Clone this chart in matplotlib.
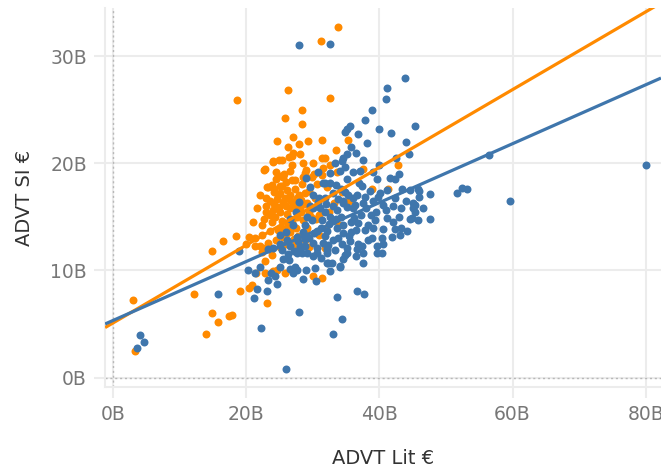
import matplotlib.pyplot as plt
import numpy as np

# values in billions of euro
orange_x = [3.0, 3.3, 12.2, 14.0, 14.8, 15.8, 17.4, 17.9, 19.1, 20.4, 23.1, 18.6, 26.3, 31.2, 33.8,
            32.6, 28.4, 25.8, 28.4, 24.6, 29.3, 31.4, 27.0, 28.1, 26.4, 24.9, 24.0, 22.7, 29.0, 25.2,
            27.3, 23.1, 28.5, 25.1, 31.5, 31.4, 21.6, 23.0, 24.6, 35.3, 42.8, 41.3, 38.9, 14.9, 16.5,
            20.4, 21.5, 24.6, 22.1, 22.4, 30.0, 31.4, 25.8, 22.4, 23.9, 22.8, 24.0, 25.4, 26.9, 25.5,
            23.3, 25.4, 26.9, 28.4, 28.8, 29.9, 31.4, 32.6, 31.8, 26.1, 26.6, 27.6, 24.8, 25.5, 27.0,
            28.1, 29.1, 26.1, 24.3, 27.6, 28.5, 25.4, 23.6, 22.4, 21.3, 22.8, 26.6, 25.5, 30.3, 32.1,
            34.5, 30.6, 33.6, 23.9, 22.8, 21.3, 31.8, 22.8, 24.0, 20.9, 37.5, 34.4,
            26.0, 27.3, 24.2, 25.0, 23.5, 26.8, 28.8, 29.5, 30.5, 27.8, 29.0, 24.5, 26.0, 28.0, 30.8,
            32.5, 33.2, 31.0, 26.5, 24.4, 23.0, 27.0, 24.9, 26.5, 28.2, 33.5, 30.0, 22.0, 32.0, 34.0,
            35.5, 29.5, 20.0, 21.0, 18.5,
            23.5, 24.2, 25.0, 25.8, 26.5, 27.2, 28.0, 28.7, 29.4, 23.0, 24.0, 25.3, 26.2, 27.5, 28.3,
            29.8, 24.7, 25.9, 27.1, 22.6, 23.8, 25.6, 26.9, 28.6, 30.2, 24.4, 26.3, 27.9, 23.3, 25.1,
            27.4, 29.2, 31.0, 26.0, 24.1, 28.9]
orange_y = [7.2, 2.5, 7.8, 4.1, 6.0, 5.2, 5.7, 5.8, 8.1, 8.4, 7.0, 25.9, 26.8, 31.4, 32.7,
            26.1, 25.0, 24.2, 23.7, 22.1, 22.1, 22.2, 21.0, 20.9, 20.6, 20.3, 20.2, 19.4, 19.4, 18.8,
            18.4, 17.8, 18.7, 17.9, 19.6, 20.5, 15.8, 16.0, 16.7, 22.2, 19.8, 17.6, 17.6, 11.8, 12.7,
            13.1, 9.8, 10.0, 12.3, 11.7, 9.5, 9.3, 9.8, 14.2, 14.5, 19.5, 20.1, 20.3, 20.7, 18.7,
            17.8, 17.9, 18.4, 18.1, 19.1, 18.7, 18.9, 19.8, 20.5, 17.5, 17.0, 16.8, 17.0, 16.4, 16.3,
            15.9, 16.3, 15.3, 15.0, 15.0, 14.7, 14.0, 13.7, 13.3, 13.0, 12.1, 13.6, 13.1, 16.8, 17.8,
            17.5, 18.1, 19.2, 11.4, 10.9, 12.3, 12.1, 9.8, 9.9, 8.6, 19.5, 17.3,
            16.0, 17.6, 16.2, 15.5, 15.2, 14.5, 17.2, 15.4, 14.8, 13.2, 13.8, 12.8, 12.5, 12.0, 16.0,
            15.5, 16.3, 13.3, 19.3, 18.5, 16.8, 22.5, 15.9, 16.6, 16.6, 21.2, 20.0, 17.0, 14.0, 14.2,
            16.5, 12.2, 12.5, 14.5, 13.2,
            16.5, 17.3, 17.2, 16.8, 15.8, 16.0, 17.0, 16.2, 17.4, 15.5, 15.6, 14.6, 14.2, 14.0, 15.5,
            15.0, 13.8, 13.4, 12.9, 14.8, 18.0, 19.0, 19.8, 20.0, 19.0, 19.2, 21.5, 21.8, 12.6, 12.2,
            12.5, 14.0, 15.2, 18.3, 17.6, 12.8]

blue_x = [3.6, 4.1, 4.7, 15.8, 22.2, 26.0, 27.9, 80.0, 59.6, 56.5, 51.7, 52.4, 53.2, 47.6, 45.9,
          45.9, 47.6, 45.3, 43.8, 41.1, 41.0, 38.9, 41.7, 44.4, 27.9, 32.6, 35.6, 34.8, 35.1, 36.8,
          38.1, 35.1, 37.5, 34.4, 34.8, 34.1, 36.0, 37.1, 39.0, 41.6, 42.3, 39.6, 32.6, 31.5, 37.4,
          43.4, 45.8, 45.0, 45.0, 40.1, 41.1, 42.3, 39.0, 40.5, 42.0, 36.6, 36.0, 34.5, 33.0, 33.8,
          31.8, 45.8, 44.9, 45.3, 45.3, 42.9, 43.2, 42.3, 44.1, 41.1, 40.5, 40.4, 38.9, 38.3, 39.3,
          41.9, 43.1, 44.6, 44.6, 40.5, 40.4, 39.6, 39.6, 37.5, 37.5, 37.4, 36.8, 35.1, 34.8, 34.1,
          32.9, 32.1, 32.6, 32.1, 36.6, 37.7, 33.6, 34.4, 33.0, 21.3, 21.6, 21.2, 23.1, 23.3, 24.6,
          23.7, 24.3, 27.0, 27.6, 26.6, 30.3, 34.1, 32.3, 25.5, 18.9, 23.3, 26.4, 27.6, 29.1, 28.1,
          34.5, 33.3, 32.6, 31.8, 29.6, 30.0, 31.1, 29.1, 29.9, 31.4, 32.6, 33.6, 34.5, 35.1, 30.6,
          32.1, 33.6, 34.5, 28.5, 27.6, 26.1, 25.1, 24.0, 28.1, 30.0, 31.5, 33.0, 34.4, 35.1, 32.1,
          30.6, 27.3, 28.4, 30.6, 32.1, 28.8, 26.6,
          35.8, 36.5, 37.2, 36.0, 38.0, 37.8, 39.5, 33.0, 33.8, 35.5, 36.2, 34.2, 31.0, 30.0, 28.8,
          27.0, 26.0, 25.0, 29.5, 31.8, 36.5, 38.3, 39.0, 38.6, 35.2, 33.5, 30.8, 29.0, 35.8, 36.5,
          37.0, 40.0, 42.5, 43.0, 44.0, 46.5, 27.5, 26.5, 28.0, 32.0, 34.8, 30.5, 29.0, 28.5, 25.0,
          22.0, 20.2, 44.0, 40.0, 37.8,
          29.0, 30.2, 31.3, 32.4, 33.5, 34.6, 35.7, 36.8, 37.9, 29.6, 30.8, 31.9, 33.1, 34.2, 35.3,
          36.4, 37.6, 38.8, 27.8, 28.9, 30.0, 31.2, 32.3, 33.4, 34.5, 35.6, 36.7, 27.2, 26.2, 25.3,
          39.8, 41.0, 42.1, 43.3]
blue_y = [2.8, 4.0, 3.3, 7.8, 4.6, 0.8, 6.1, 19.8, 16.5, 20.8, 17.2, 17.7, 17.6, 17.1, 17.4,
          16.9, 14.8, 23.5, 28.0, 27.0, 26.0, 25.0, 22.8, 20.9, 31.0, 31.1, 23.5, 22.9, 23.2, 22.7,
          21.9, 20.9, 20.3, 20.2, 19.7, 19.3, 19.2, 19.3, 19.2, 18.6, 18.5, 18.5, 18.2, 18.2, 17.9,
          17.6, 17.6, 16.3, 15.8, 17.2, 17.5, 16.8, 16.5, 16.1, 16.0, 17.0, 15.8, 16.3, 17.2, 16.7,
          16.8, 14.7, 14.9, 15.5, 16.1, 15.0, 14.0, 13.9, 13.7, 14.9, 13.9, 13.0, 13.0, 14.2, 14.7,
          13.1, 13.3, 17.5, 14.8, 12.5, 11.6, 11.6, 12.3, 11.6, 10.7, 12.3, 12.5, 11.6, 11.4, 10.3,
          10.7, 10.7, 9.9, 11.6, 8.1, 7.8, 7.5, 5.5, 4.1, 9.8, 8.3, 7.4, 8.1, 9.1, 8.7,
          9.8, 9.5, 9.8, 10.0, 10.1, 10.2, 10.4, 10.7, 11.1, 11.8, 12.0, 11.0, 11.6, 11.6, 12.1,
          20.5, 20.0, 19.1, 18.2, 17.8, 17.0, 15.8, 15.0, 14.7, 14.7, 15.0, 15.6, 16.5, 15.9, 13.7,
          13.7, 14.0, 13.5, 13.6, 13.1, 12.8, 12.5, 12.1, 12.3, 12.6, 12.6, 12.8, 12.5, 12.1, 12.1,
          12.1, 10.3, 11.6, 11.6, 11.9, 12.3, 12.3,
          14.5, 13.8, 15.2, 16.8, 15.8, 16.9, 15.5, 14.6, 13.0, 13.2, 14.9, 15.0, 16.8, 15.8, 14.2,
          14.2, 13.6, 13.3, 13.0, 13.2, 11.3, 12.8, 14.0, 17.4, 18.5, 18.0, 19.2, 18.6, 21.5, 21.0,
          18.2, 19.8, 20.5, 19.0, 16.5, 15.8, 15.5, 14.8, 16.4, 16.2, 17.3, 9.0, 10.0, 9.2, 10.3,
          10.3, 10.0, 22.0, 23.2, 24.0,
          13.2, 13.5, 14.0, 14.3, 14.8, 14.2, 13.6, 14.4, 13.8, 16.0, 16.4, 15.5, 16.0, 17.6, 17.0,
          16.1, 16.3, 15.2, 12.7, 12.9, 11.3, 11.2, 12.4, 11.9, 11.1, 12.7, 12.0, 11.8, 11.5, 11.9,
          16.9, 15.6, 14.5, 15.8]

# trend lines (intercept, slope), in B
orange_trend = [5.1, 0.363]
blue_trend = [5.33, 0.275]

blue = '#3f76ac'
orange = '#ff8a00'
grid_c = '#ececec'

fig = plt.figure(figsize=(6.61, 4.71), dpi=100)
ax = fig.add_axes([0.159, 0.178, 0.841, 0.805])

xmin, xmax = -1.2, 82.3
ymin, ymax = -0.9, 34.5

ax.scatter(orange_x, orange_y, s=33, color=orange, linewidths=0, zorder=3)
ax.scatter(blue_x, blue_y, s=33, color=blue, linewidths=0, zorder=3)

xs = np.array([xmin, xmax])
ax.plot(xs, orange_trend[0] + orange_trend[1] * xs, color=orange, lw=2.3, zorder=4,
        solid_capstyle='butt')
ax.plot(xs, blue_trend[0] + blue_trend[1] * xs, color=blue, lw=2.3, zorder=4,
        solid_capstyle='butt')

# zero reference lines
ax.axvline(0, color='#b8b8b8', lw=1, ls=(0, (1.5, 2)), zorder=2)
ax.axhline(0, color='#b8b8b8', lw=1, ls=(0, (1.5, 2)), zorder=2)

ax.set_xlim(xmin, xmax)
ax.set_ylim(ymin, ymax)

xticks = [0, 20, 40, 60, 80]
yticks = [0, 10, 20, 30]
ax.set_xticks(xticks)
ax.set_xticklabels([f'{t}B' for t in xticks])
ax.set_yticks(yticks)
ax.set_yticklabels([f'{t}B' for t in yticks])

ax.grid(True, color=grid_c, lw=1.5, zorder=0)
ax.set_axisbelow(True)
ax.tick_params(axis='both', colors=grid_c, labelcolor='#777777', labelsize=13.5,
               length=8, width=1.5, pad=5)
for side in ['top', 'right']:
    ax.spines[side].set_visible(False)
for side in ['left', 'bottom']:
    ax.spines[side].set_color(grid_c)
    ax.spines[side].set_linewidth(1.5)

ax.set_xlabel('ADVT Lit €', fontsize=14, color='#333333', labelpad=18)
ax.set_ylabel('ADVT SI €', fontsize=14, color='#333333', labelpad=12)

fig.savefig('out.png', dpi=100)
